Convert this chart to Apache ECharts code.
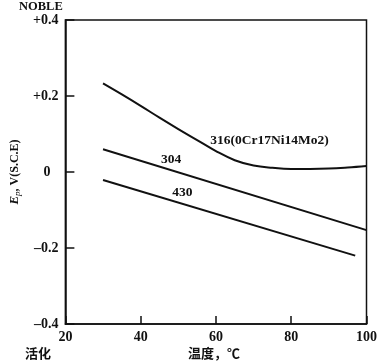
<!DOCTYPE html>
<html>
<head>
<meta charset="utf-8">
<script src="https://cdn.jsdelivr.net/npm/echarts@6/dist/echarts.min.js"></script>
<style>html,body{margin:0;padding:0;background:#fff}#c{width:380px;height:363px}</style>
</head>
<body>
<div id="c"></div>
<script>
// Data
const x316 = [30, 35, 40, 45, 50, 55, 60, 65, 70, 75, 80, 85, 90, 95, 100];
const y316 = [0.233, 0.204, 0.174, 0.143, 0.113, 0.084, 0.055, 0.031, 0.017, 0.011, 0.008, 0.008, 0.009, 0.012, 0.016];
const x304 = [30, 100];
const y304 = [0.060, -0.153];
const x430 = [30, 97];
const y430 = [-0.021, -0.220];
const seriesNames = ['316(0Cr17Ni14Mo2)', '304', '430'];
const labelAnchors = [[74.2, 0.084], [48.1, 0.034], [51.1, -0.055]];
const xTicks = [20, 40, 60, 80, 100];
const yTicks = [-0.4, -0.2, 0, 0.2, 0.4];

const zip = (a, b) => a.map((v, i) => [v, b[i]]);
const serif = '"Liberation Serif","DejaVu Serif",serif';
const cjk = '"Noto Sans CJK SC",sans-serif';

const chart = echarts.init(document.getElementById('c'), null, {renderer: 'canvas'});
const datasets = [zip(x316, y316), zip(x304, y304), zip(x430, y430)];

chart.setOption({
  animation: false,
  grid: {left: 58, right: 11, top: 20, bottom: 39, show: true, borderColor: '#111', borderWidth: 1.5, backgroundColor: 'transparent'},
  xAxis: {
    type: 'value', min: xTicks[0], max: xTicks[xTicks.length - 1], interval: 20,
    axisLine: {show: true, onZero: false, lineStyle: {color: '#111', width: 1.5}},
    axisTick: {show: true, inside: true, length: 8, lineStyle: {color: '#111', width: 1.5}},
    splitLine: {show: false},
    axisLabel: {color: '#111', fontFamily: serif, fontWeight: 'bold', fontSize: 14, margin: 6}
  },
  yAxis: {
    type: 'value', min: yTicks[0], max: yTicks[yTicks.length - 1], interval: 0.2,
    axisLine: {show: true, onZero: false, lineStyle: {color: '#111', width: 1.5}},
    axisTick: {show: true, inside: true, length: 9, lineStyle: {color: '#111', width: 1.5}},
    splitLine: {show: false},
    axisLabel: {
      color: '#111', fontFamily: serif, fontWeight: 'bold', fontSize: 14, margin: 7,
      formatter: function (v) {
        const r = Math.round(v * 10) / 10;
        if (r === 0) return '{z|0}';
        return (r > 0 ? '+' : '\u2013') + Math.abs(r).toFixed(1);
      },
      rich: {z: {fontFamily: serif, fontWeight: 'bold', fontSize: 14, color: '#111', padding: [0, 8, 0, 0]}}
    },
    name: '{e|E}{p|p}{n|, V(S.C.E)}',
    nameLocation: 'middle', nameGap: 36, nameRotate: 90,
    nameTextStyle: {
      color: '#111',
      rich: {
        e: {fontFamily: serif, fontStyle: 'italic', fontWeight: 'bold', fontSize: 13, color: '#111'},
        p: {fontFamily: serif, fontStyle: 'italic', fontSize: 9, color: '#111', verticalAlign: 'bottom', padding: [6, 0, 0, 0]},
        n: {fontFamily: serif, fontSize: 12, fontWeight: 'bold', color: '#111'}
      }
    }
  },
  series: datasets.map((d, i) => ({
    type: 'line', name: seriesNames[i], data: d, smooth: i === 0 ? 0.4 : false,
    showSymbol: false, symbol: 'none',
    lineStyle: {color: '#111', width: 2},
    markPoint: {
      symbol: 'circle', symbolSize: 0,
      data: [{coord: labelAnchors[i], value: seriesNames[i]}],
      label: {show: true, position: 'inside', formatter: seriesNames[i], color: '#111', fontFamily: serif, fontWeight: 'bold', fontSize: 13.5}
    }
  })),
  graphic: [
    {type: 'text', left: 19, top: 0, style: {text: 'NOBLE', font: 'bold 12.5px ' + serif, fill: '#111'}},
    {type: 'text', left: 25, top: 347, style: {text: '活化', font: 'bold 13px ' + cjk, fill: '#111'}},
    {type: 'text', left: 188, top: 347, style: {text: '温度，℃', font: 'bold 13px ' + cjk, fill: '#111'}}
  ]
});
</script>
</body>
</html>
